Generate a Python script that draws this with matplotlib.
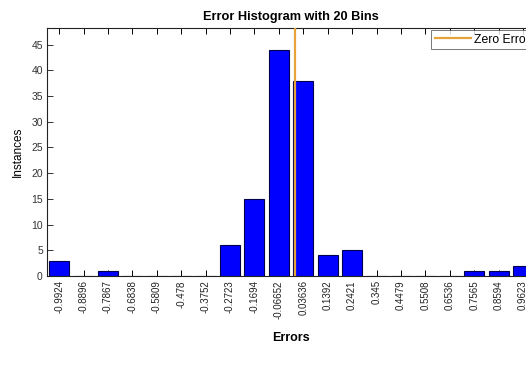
import matplotlib
matplotlib.use("Agg")
import matplotlib.pyplot as plt
import numpy as np

plt.rcParams['font.family'] = ['Liberation Sans', 'DejaVu Sans']

# Bin centres of the error histogram and the number of instances in each bin
bin_centers = [-0.9924, -0.8896, -0.7867, -0.6838, -0.5809, -0.478, -0.3752,
               -0.2723, -0.1694, -0.06652, 0.03636, 0.1392, 0.2421, 0.345,
               0.4479, 0.5508, 0.6536, 0.7565, 0.8594, 0.9623]
tick_labels = ['-0.9924', '-0.8896', '-0.7867', '-0.6838', '-0.5809', '-0.478',
               '-0.3752', '-0.2723', '-0.1694', '-0.06652', '0.03636', '0.1392',
               '0.2421', '0.345', '0.4479', '0.5508', '0.6536', '0.7565',
               '0.8594', '0.9623']
counts = [3, 0, 1, 0, 0, 0, 0, 6, 15, 44, 38, 4, 5, 0, 0, 0, 0, 1, 1, 2]
zero_error = 0.0

bin_w = (bin_centers[-1] - bin_centers[0]) / (len(bin_centers) - 1)

fig = plt.figure(figsize=(5.26, 3.69), dpi=100)
ax = fig.add_axes([0.0894, 0.252, 0.928, 0.672])

ax.bar(bin_centers, counts, width=bin_w * 0.82, color='#0000FF',
       edgecolor='#00004A', linewidth=0.8, zorder=2)
ax.axvline(zero_error, color='#E6A33A', linewidth=1.6, zorder=3,
           label='Zero Error')

ax.set_xlim(bin_centers[0] - bin_w / 2, bin_centers[-1] + bin_w / 2)
ax.set_ylim(0, 48.2)
ax.set_xticks(bin_centers)
ax.set_xticklabels(tick_labels, rotation=90, fontsize=7, color='#222222')
ax.set_yticks(np.arange(0, 46, 5))
ax.tick_params(axis='y', labelsize=7.5, colors='#333333', direction='in',
               length=4, width=0.7, pad=3)
ax.tick_params(axis='x', direction='in', length=4, width=0.7, top=True,
               pad=3)
ax.tick_params(axis='y', right=True)

for s in ax.spines.values():
    s.set_linewidth(0.8)
    s.set_color('#222222')

ax.set_title('Error Histogram with 20 Bins', fontsize=9.2, fontweight='bold',
             pad=6)
ax.set_xlabel('Errors', fontsize=9, fontweight='bold', labelpad=10)
ax.set_ylabel('Instances', fontsize=8.5, labelpad=5)

leg = ax.legend(loc='upper left', bbox_to_anchor=(431 / 526, 1 - 30 / 369),
                bbox_transform=fig.transFigure, fontsize=8.8, frameon=True,
                fancybox=False, borderpad=0.3, handlelength=3.0,
                handletextpad=0.25, borderaxespad=0)
leg.get_frame().set_edgecolor('#555555')
leg.get_frame().set_linewidth(0.7)

fig.savefig('out.png', dpi=100)
